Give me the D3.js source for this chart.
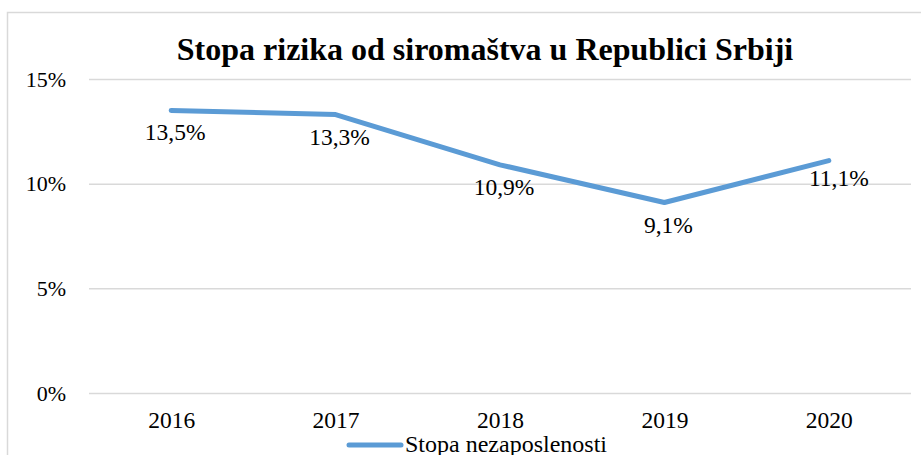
<html>
<head>
<meta charset="utf-8" />
<script src="https://cdn.jsdelivr.net/npm/d3@7"></script>
<style>
  html, body { margin: 0; padding: 0; background: #fff; }
  svg text { font-family: "Liberation Serif", "Times New Roman", serif; fill: #000; }
</style>
</head>
<body>
<svg width="921" height="455" id="mainsvg"></svg>
<script>
  const years = ["2016", "2017", "2018", "2019", "2020"];
  const values = [13.5, 13.3, 10.9, 9.1, 11.1];
  const yTicks = [0, 5, 10, 15];
  const seriesName = "Stopa nezaposlenosti";
  const title = "Stopa rizika od siromaštva u Republici Srbiji";

  const svg = d3.select("svg");
  const data = years.map((y, i) => ({ year: y, value: values[i] }));

  // chart frame (runs off the right and bottom edge, as in the source)
  svg.append("rect")
    .attr("x", 7.5).attr("y", 12.5)
    .attr("width", 940).attr("height", 470)
    .attr("fill", "#fff").attr("stroke", "#d9d9d9").attr("stroke-width", 1.5);

  const gridLeft = 89, gridRight = 911;
  const xScale = d3.scalePoint().domain(years).range([gridLeft, gridRight]).padding(0.5);
  const yScale = d3.scaleLinear().domain([0, 15]).range([393, 79]);

  // gridlines + y labels
  const yAxis = d3.axisLeft(yScale).tickValues(yTicks)
    .tickSize(-(gridRight - gridLeft)).tickPadding(23)
    .tickFormat(d => d + "%");
  const yg = svg.append("g").attr("transform", `translate(${gridLeft},0)`).call(yAxis);
  yg.attr("font-family", null);
  yg.select(".domain").remove();
  yg.selectAll(".tick line").attr("stroke", "#d9d9d9").attr("stroke-width", 1.5);
  yg.selectAll(".tick text").attr("font-size", 22);

  // x labels
  const xAxis = d3.axisBottom(xScale).tickSize(0);
  const xg = svg.append("g").attr("transform", "translate(0,393)").call(xAxis);
  xg.attr("font-family", null);
  xg.select(".domain").remove();
  xg.selectAll(".tick text").attr("font-size", 23.5).attr("y", 35).attr("dy", 0);

  // line
  const line = d3.line().x(d => xScale(d.year)).y(d => yScale(d.value));
  svg.append("path").datum(data)
    .attr("d", line)
    .attr("fill", "none").attr("stroke", "#5b9bd5")
    .attr("stroke-width", 5).attr("stroke-linecap", "round")
    .attr("stroke-linejoin", "round");

  // data labels, placed below each point
  const last = data.length - 1;
  svg.selectAll(".lbl").data(data).join("text")
    .attr("class", "lbl")
    .attr("x", (d, i) => xScale(d.year) + (i === last ? 10 : 4))
    .attr("y", (d, i) => yScale(d.value) + (i === last ? 25 : 30))
    .attr("text-anchor", "middle")
    .attr("font-size", 23.5)
    .text(d => d.value.toFixed(1).replace(".", ",") + "%");

  // title
  svg.append("text")
    .attr("x", 485).attr("y", 60)
    .attr("text-anchor", "middle")
    .attr("font-size", 32).attr("font-weight", "bold")
    .text(title);

  // legend
  svg.append("line")
    .attr("x1", 349).attr("x2", 401).attr("y1", 445).attr("y2", 445)
    .attr("stroke", "#5b9bd5").attr("stroke-width", 5).attr("stroke-linecap", "round");
  svg.append("text")
    .attr("x", 405).attr("y", 452)
    .attr("font-size", 24)
    .text(seriesName);
</script>
</body>
</html>
